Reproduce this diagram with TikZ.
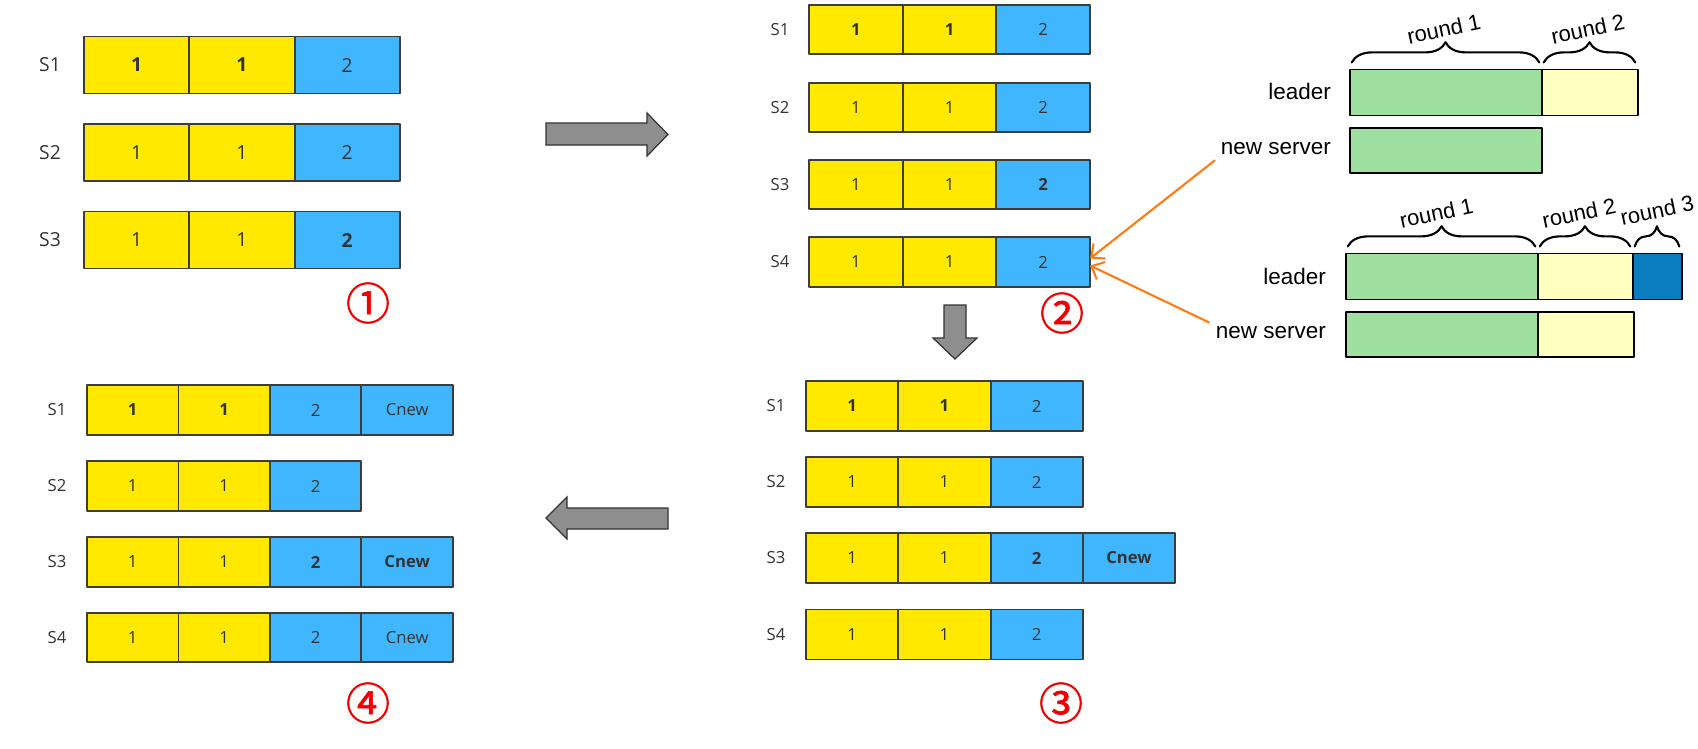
\documentclass[tikz,border=0pt]{standalone}
\usepackage{fontspec}
\setmainfont{Open Sans}
\newfontfamily\helv{Liberation Sans}
\newfontfamily\cjk[AutoFakeBold=1.5]{Noto Sans CJK SC}
\usetikzlibrary{positioning,arrows.meta,decorations.pathreplacing}
\definecolor{logyellow}{HTML}{FFE900}
\definecolor{logblue}{HTML}{40B6FF}
\definecolor{cellline}{HTML}{3C3C3C}
\definecolor{txtgray}{HTML}{333333}
\definecolor{roundgreen}{HTML}{9FDF9F}
\definecolor{roundyellow}{HTML}{FFFFC0}
\definecolor{rounddark}{HTML}{0A7DBF}
\definecolor{arrowgray}{HTML}{8E8E8E}
\definecolor{pointer}{HTML}{FF7B14}
\definecolor{stepred}{HTML}{F00000}
\tikzset{
  every picture/.style={line join=round, line cap=round, >=Stealth},
  % log entries, one box per entry
  cell/.style={draw=cellline, line width=1.1pt, outer sep=0pt, inner sep=0pt,
    text=txtgray, minimum width=1.85cm, minimum height=1cm,
    font=\fontsize{9.5}{11}\selectfont},
  old/.style={cell, fill=logyellow},
  cur/.style={cell, fill=logblue},
  srv/.style={text=txtgray, font=\fontsize{9.5}{11}\selectfont},
  % the catch-up rounds on the right
  bar/.style={draw=black, line width=1.1pt, outer sep=0pt, inner sep=0pt,
    minimum height=0.92cm},
  who/.style={anchor=east, inner sep=1pt, font=\helv\fontsize{12.8}{15}\selectfont},
  roundbrace/.style={decorate, decoration={brace, amplitude=11.5pt, raise=4pt},
    line width=1.2pt},
  roundtxt/.style={anchor=south, rotate=12, inner sep=1pt,
    font=\helv\fontsize{12.5}{15}\selectfont},
  blockarrow/.style={fill=arrowgray, draw=black!80, line width=0.7pt, line join=miter},
  pointer line/.style={draw=pointer, line width=1.2pt, shorten <=3pt,
    -{Straight Barb[length=6pt,width=11pt]}},
  stepno/.style={text=stepred, font=\cjk\bfseries\fontsize{25}{27}\selectfont},
}
\begin{document}
\begin{tikzpicture}[x=0.02cm,y=-0.02cm]
\useasboundingbox (0,0) rectangle (1698,748);

% step 1: three servers
\begin{scope}[cell/.append style={minimum width=2.106cm, minimum height=1.14cm,
    font=\fontsize{11}{13}\selectfont}, srv/.append style={font=\fontsize{11}{13}\selectfont}]
\foreach \r/\y in {1/65,2/152.5,3/240}{
  \node[srv] (p1-\r) at (50,\y) {S\r};
  \node[old, anchor=west] (p1-\r-1) at (84,\y) {\ifnum\r=1 \bfseries\fi 1};
  \node[old, right=0pt of p1-\r-1] (p1-\r-2) {\ifnum\r=1 \bfseries\fi 1};
  \node[cur, right=0pt of p1-\r-2] (p1-\r-3) {\ifnum\r=3 \bfseries\fi 2};
}
\end{scope}
\node[stepno] (n1) at (368,303) {①};

% step 2: S4 joins
\begin{scope}[cell/.append style={minimum width=1.874cm, minimum height=0.99cm}]
\foreach \r/\y in {1/29.5,2/107.5,3/184.5,4/262}{
  \node[srv] (p2-\r) at (780,\y) {S\r};
  \node[old, anchor=west] (p2-\r-1) at (809,\y) {\ifnum\r=1 \bfseries\fi 1};
  \node[old, right=0pt of p2-\r-1] (p2-\r-2) {\ifnum\r=1 \bfseries\fi 1};
  \node[cur, right=0pt of p2-\r-2] (p2-\r-3) {\ifnum\r=3 \bfseries\fi 2};
}
\end{scope}
\node[stepno] (n2) at (1062,313) {②};

% step 3: Cnew only on S3
\begin{scope}[cell/.append style={minimum width=1.846cm, minimum height=1cm}]
\foreach \r/\y in {1/406,2/482,3/558,4/634.5}{
  \node[srv] (p3-\r) at (776,\y) {S\r};
  \node[old, anchor=west] (p3-\r-1) at (806,\y) {\ifnum\r=1 \bfseries\fi 1};
  \node[old, right=0pt of p3-\r-1] (p3-\r-2) {\ifnum\r=1 \bfseries\fi 1};
  \node[cur, right=0pt of p3-\r-2] (p3-\r-3) {\ifnum\r=3 \bfseries\fi 2};
}
\node[cur, right=0pt of p3-3-3] (p3-3-4) {\bfseries Cnew};
\end{scope}
\node[stepno] (n3) at (1061,703) {③};

% step 4: Cnew copied to S1 and S4
\begin{scope}[cell/.append style={minimum width=1.83cm, minimum height=0.99cm}]
\foreach \r/\y in {1/410,2/486,3/562,4/637.5}{
  \node[srv] (p4-\r) at (57,\y) {S\r};
  \node[old, anchor=west] (p4-\r-1) at (87,\y) {\ifnum\r=1 \bfseries\fi 1};
  \node[old, right=0pt of p4-\r-1] (p4-\r-2) {\ifnum\r=1 \bfseries\fi 1};
  \node[cur, right=0pt of p4-\r-2] (p4-\r-3) {\ifnum\r=3 \bfseries\fi 2};
}
\foreach \r in {1,3,4}
  \node[cur, right=0pt of p4-\r-3] (p4-\r-4) {\ifnum\r=3 \bfseries\fi Cnew};
\end{scope}
\node[stepno] (n4) at (368,703) {④};

% big grey arrows between the steps
\draw[blockarrow] (546,123) -- (647,123) -- (647,113) -- (668,134.5) -- (647,156)
  -- (647,145) -- (546,145) -- cycle;
\draw[blockarrow] (944,305) -- (966,305) -- (966,338) -- (977,338) -- (955,359)
  -- (933,338) -- (944,338) -- cycle;
\draw[blockarrow] (668,508) -- (567,508) -- (567,497) -- (546,518) -- (567,539)
  -- (567,529) -- (668,529) -- cycle;

% rounds: leader keeps writing while the new server catches up
\node[who] (ld1) at (1333,91) {leader};
\node[who] (ns1) at (1333,149) {new server};
\node[bar, fill=roundgreen, minimum width=3.84cm, anchor=west] (ld1-g) at (1350,92.5) {};
\node[bar, fill=roundyellow, minimum width=1.92cm, right=0pt of ld1-g] (ld1-y) {};
\node[bar, fill=roundgreen, minimum width=3.84cm, minimum height=0.9cm, anchor=west] (ns1-g) at (1350,150.5) {};
\draw[roundbrace] ([xshift=1pt]ld1-g.north west) -- ([xshift=-1.5pt]ld1-g.north east);
\draw[roundbrace] ([xshift=1pt]ld1-y.north west) -- ([xshift=-1.5pt]ld1-y.north east);
\node[roundtxt] at ([yshift=17.5pt]ld1-g.north) {round 1};
\node[roundtxt] at ([yshift=17.5pt]ld1-y.north) {round 2};

\node[who] (ld2) at (1328,276) {leader};
\node[who] (ns2) at (1328,333) {new server};
\node[bar, fill=roundgreen, minimum width=3.84cm, anchor=west] (ld2-g) at (1346,276.5) {};
\node[bar, fill=roundyellow, minimum width=1.9cm, right=0pt of ld2-g] (ld2-y) {};
\node[bar, fill=rounddark, minimum width=0.98cm, right=0pt of ld2-y] (ld2-d) {};
\node[bar, fill=roundgreen, minimum width=3.84cm, minimum height=0.9cm, anchor=west] (ns2-g) at (1346,334.5) {};
\node[bar, fill=roundyellow, minimum width=1.92cm, minimum height=0.9cm, right=0pt of ns2-g] (ns2-y) {};
\draw[roundbrace] ([xshift=1pt]ld2-g.north west) -- ([xshift=-1.5pt]ld2-g.north east);
\draw[roundbrace] ([xshift=1pt]ld2-y.north west) -- ([xshift=-1.5pt]ld2-y.north east);
\draw[roundbrace] ([xshift=1pt]ld2-d.north west) -- ([xshift=-1.5pt]ld2-d.north east);
\node[roundtxt] at ([xshift=-2pt,yshift=17.5pt]ld2-g.north) {round 1};
\node[roundtxt] at ([xshift=-2.5pt,yshift=17.5pt]ld2-y.north) {round 2};
\node[roundtxt] at ([xshift=1pt,yshift=19pt]ld2-d.north) {round 3};

% both pictures point at the new server S4
\draw[pointer line] (ns1.south west) -- ([yshift=2pt]p2-4-3.east);
\draw[pointer line] (ns2.north west) -- ([yshift=-2pt]p2-4-3.east);
\end{tikzpicture}
\end{document}
